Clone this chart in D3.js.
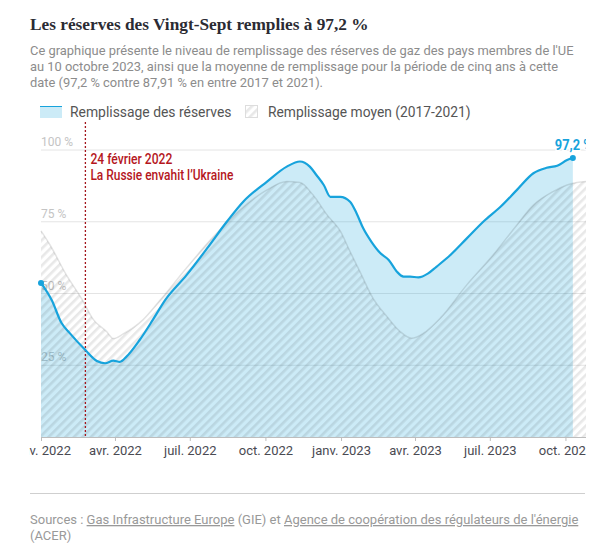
<!DOCTYPE html>
<html>
<head>
<meta charset="utf-8">
<script src="https://cdn.jsdelivr.net/npm/d3@7"></script>
<style>
  body { margin: 0; background: #fff; }
  svg { display: block; }
</style>
</head>
<body>
<svg id="chart" width="603" height="546"></svg>
<script>
// Remplissage des réserves de gaz UE
const reservesDates = ["2022-01-01","2022-01-14","2022-01-26","2022-02-05","2022-02-24","2022-03-10","2022-03-20","2022-03-30","2022-04-07","2022-04-15","2022-05-01","2022-05-17","2022-06-01","2022-06-27","2022-07-22","2022-08-15","2022-09-04","2022-10-03","2022-10-27","2022-11-12","2022-11-24","2022-12-02","2022-12-11","2022-12-19","2022-12-31","2023-01-12","2023-01-20","2023-01-28","2023-02-07","2023-02-18","2023-02-28","2023-03-10","2023-03-18","2023-03-26","2023-04-05","2023-04-17","2023-04-27","2023-05-14","2023-06-03","2023-06-23","2023-07-14","2023-08-03","2023-08-23","2023-09-08","2023-09-21","2023-10-03","2023-10-10"]
const reservesValues = [53.7,47.7,39.7,36.2,30.3,26.5,25.7,26.6,26.2,28.0,33.8,40.8,47.7,56.4,65.7,75.0,82.0,89.0,94.2,96.0,94.2,91.3,87.8,83.7,83.7,82.0,77.9,72.7,68.0,64.0,61.7,57.6,55.9,55.9,55.6,57.0,59.3,63.4,69.2,75.0,80.2,86.1,91.9,93.8,94.5,96.5,97.2]

// Moyenne 2017-2021
const averageDates = ["2022-01-01","2022-01-12","2022-02-01","2022-02-19","2022-03-06","2022-03-22","2022-03-30","2022-04-11","2022-05-05","2022-05-26","2022-06-27","2022-07-26","2022-08-31","2022-10-03","2022-10-27","2022-11-12","2022-11-28","2022-12-15","2022-12-31","2023-01-12","2023-01-24","2023-02-09","2023-02-26","2023-03-14","2023-03-28","2023-04-11","2023-05-02","2023-06-03","2023-07-05","2023-08-03","2023-08-23","2023-09-16","2023-10-03","2023-10-15","2023-10-26"]
const averageValues = [71.8,66.9,56.4,48.4,40.8,36.7,34.3,35.9,40.8,47.7,58.9,68.6,79.1,86.1,89.0,88.7,84.3,77.4,71.8,64.6,57.6,48.3,41.9,36.7,34.4,36.1,41.5,53.0,63.4,73.9,80.8,85.5,87.8,88.7,89.0]

const tickDates = ["2022-01-01","2022-04-01","2022-07-01","2022-10-01","2023-01-01","2023-04-01","2023-07-01","2023-10-01"]
const tickLabels = ["janv. 2022","avr. 2022","juil. 2022","oct. 2022","janv. 2023","avr. 2023","juil. 2023","oct. 2023"]
const yTicks = [25, 50, 75, 100]
const yTickLabels = ["25 %", "50 %", "75 %", "100 %"]

const invasionDate = "2022-02-24"
const annotLines = ["24 février 2022", "La Russie envahit l’Ukraine"]
const annotWidths = [82, 143]
const lastLabel = "97,2 %"

const parse = d3.timeParse("%Y-%m-%d")
const reserves = reservesDates.map((d, i) => ({ date: parse(d), value: reservesValues[i] }))
const average = averageDates.map((d, i) => ({ date: parse(d), value: averageValues[i] }))

const sans = "Roboto, 'Noto Sans', sans-serif"
const blue = "#17a3dc"

const svg = d3.select("#chart")

// pattern hachuré
const defs = svg.append("defs")
const pat = defs.append("pattern")
  .attr("id", "hatch")
  .attr("patternUnits", "userSpaceOnUse")
  .attr("width", 6).attr("height", 6)
  .attr("patternTransform", "rotate(45)")
pat.append("rect")
  .attr("x", 0).attr("y", 0).attr("width", 2.6).attr("height", 6)
  .attr("fill", "rgba(0,0,0,0.09)")

defs.append("clipPath").attr("id", "plotclip")
  .append("rect").attr("x", 29).attr("y", 95).attr("width", 557).attr("height", 380)

// Titre
svg.append("text")
  .attr("x", 30).attr("y", 30)
  .attr("font-family", "'Liberation Serif', 'DejaVu Serif', serif")
  .attr("font-weight", "bold")
  .attr("font-size", 17.3)
  .attr("fill", "#2b2b33")
  .text("Les réserves des Vingt-Sept remplies à 97,2 %")

const subtitle = [
  "Ce graphique présente le niveau de remplissage des réserves de gaz des pays membres de l'UE",
  "au 10 octobre 2023, ainsi que la moyenne de remplissage pour la période de cinq ans à cette",
  "date (97,2 % contre 87,91 % en entre 2017 et 2021)."
]
svg.append("g").selectAll("text")
  .data(subtitle)
  .enter()
  .append("text")
  .attr("x", 30)
  .attr("y", (d, i) => 54.5 + i * 16)
  .attr("font-family", sans)
  .attr("font-size", 12.9)
  .attr("fill", "#8c8c8c")
  .text(d => d)

// Légende
svg.append("rect").attr("x", 40).attr("y", 106).attr("width", 22).attr("height", 12)
  .attr("fill", blue).attr("fill-opacity", 0.22)
svg.append("line").attr("x1", 40).attr("x2", 62).attr("y1", 106.5).attr("y2", 106.5)
  .attr("stroke", blue).attr("stroke-width", 1)
svg.append("text").attr("x", 70).attr("y", 117)
  .attr("font-family", sans).attr("font-size", 13.9).attr("fill", "#555")
  .text("Remplissage des réserves")
svg.append("rect").attr("x", 245.5).attr("y", 105.5).attr("width", 12).attr("height", 12)
  .attr("fill", "url(#hatch)").attr("stroke", "#ddd")
svg.append("text").attr("x", 268).attr("y", 117)
  .attr("font-family", sans).attr("font-size", 13.8).attr("fill", "#555")
  .text("Remplissage moyen (2017-2021)")

// Graphique
const xScale = d3.scaleTime()
  .domain([parse("2022-01-01"), parse("2023-10-26")])
  .range([41, 586])

const yScale = d3.scaleLinear()
  .domain([0, 100])
  .range([437, 150])

const plot = svg.append("g").attr("clip-path", "url(#plotclip)")

plot.append("g").selectAll("line")
  .data(yTicks)
  .enter()
  .append("line")
  .attr("x1", 41).attr("x2", 586)
  .attr("y1", d => yScale(d)).attr("y2", d => yScale(d))
  .attr("stroke", "#e4e4e4")

plot.append("g").selectAll("text")
  .data(yTicks)
  .enter()
  .append("text")
  .attr("x", 41)
  .attr("y", d => yScale(d) - 4)
  .attr("font-family", sans)
  .attr("font-size", 12)
  .attr("fill", "#c4c4c4")
  .text((d, i) => yTickLabels[i])

const area = d3.area()
  .x(d => xScale(d.date))
  .y0(yScale(0))
  .y1(d => yScale(d.value))
  .curve(d3.curveMonotoneX)

const line = d3.line()
  .x(d => xScale(d.date))
  .y(d => yScale(d.value))
  .curve(d3.curveMonotoneX)

plot.append("path")
  .datum(reserves)
  .attr("d", area)
  .attr("fill", blue)
  .attr("fill-opacity", 0.22)

plot.append("path")
  .datum(average)
  .attr("d", area)
  .attr("fill", "url(#hatch)")

plot.append("path")
  .datum(average)
  .attr("d", line)
  .attr("fill", "none")
  .attr("stroke", "rgba(0,0,0,0.11)")
  .attr("stroke-width", 1.5)

// annotation
const xInv = xScale(parse(invasionDate))
plot.append("line")
  .attr("x1", xInv).attr("x2", xInv)
  .attr("y1", 122).attr("y2", yScale(0))
  .attr("stroke", "#a3161c")
  .attr("stroke-width", 1.3)
  .attr("stroke-dasharray", "2,2")

plot.append("g").selectAll("text")
  .data(annotLines)
  .enter()
  .append("text")
  .attr("x", xInv + 5)
  .attr("y", (d, i) => 164 + i * 15.5)
  .attr("font-family", sans)
  .attr("font-weight", 500)
  .attr("font-size", 14)
  .attr("textLength", (d, i) => annotWidths[i])
  .attr("lengthAdjust", "spacingAndGlyphs")
  .attr("fill", "#b5161d")
  .text(d => d)

plot.append("path")
  .datum(reserves)
  .attr("d", line)
  .attr("fill", "none")
  .attr("stroke", blue)
  .attr("stroke-width", 2.2)

const first = reserves[0]
const last = reserves[reserves.length - 1]
plot.selectAll("circle")
  .data([first, last])
  .enter()
  .append("circle")
  .attr("cx", d => xScale(d.date))
  .attr("cy", d => yScale(d.value))
  .attr("r", 3)
  .attr("fill", blue)

plot.append("text")
  .attr("x", xScale(last.date) - 18)
  .attr("y", yScale(last.value) - 8)
  .attr("font-family", sans)
  .attr("font-weight", "bold")
  .attr("font-size", 15)
  .attr("textLength", 38)
  .attr("lengthAdjust", "spacingAndGlyphs")
  .attr("fill", blue)
  .attr("stroke", "#fff")
  .attr("stroke-width", 3)
  .attr("paint-order", "stroke")
  .text(lastLabel)

// axe x
const xAxis = d3.axisBottom(xScale)
  .tickValues(tickDates.map(parse))
  .tickFormat((d, i) => tickLabels[i])
  .tickSize(4)
  .tickSizeOuter(0)
  .tickPadding(5)

const gx = plot.append("g")
  .attr("transform", "translate(0," + yScale(0) + ")")
  .call(xAxis)
gx.select(".domain").attr("stroke", "#bdbdbd")
gx.selectAll(".tick line").attr("stroke", "#bdbdbd")
gx.selectAll(".tick text")
  .attr("font-family", sans)
  .attr("font-size", 13)
  .attr("fill", "#4a4a52")

// Sources
svg.append("line")
  .attr("x1", 30).attr("x2", 585)
  .attr("y1", 493.5).attr("y2", 493.5)
  .attr("stroke", "#cfcfcf")

const src = svg.append("text")
  .attr("x", 30).attr("y", 524)
  .attr("font-family", sans)
  .attr("font-size", 13)
  .attr("fill", "#999")
src.append("tspan").text("Sources : ")
src.append("tspan").attr("text-decoration", "underline").text("Gas Infrastructure Europe")
src.append("tspan").text(" (GIE) et ")
src.append("tspan").attr("text-decoration", "underline").text("Agence de coopération des régulateurs de l'énergie")
svg.append("text")
  .attr("x", 30).attr("y", 539.5)
  .attr("font-family", sans)
  .attr("font-size", 13)
  .attr("fill", "#999")
  .text("(ACER)")
</script>
</body>
</html>
